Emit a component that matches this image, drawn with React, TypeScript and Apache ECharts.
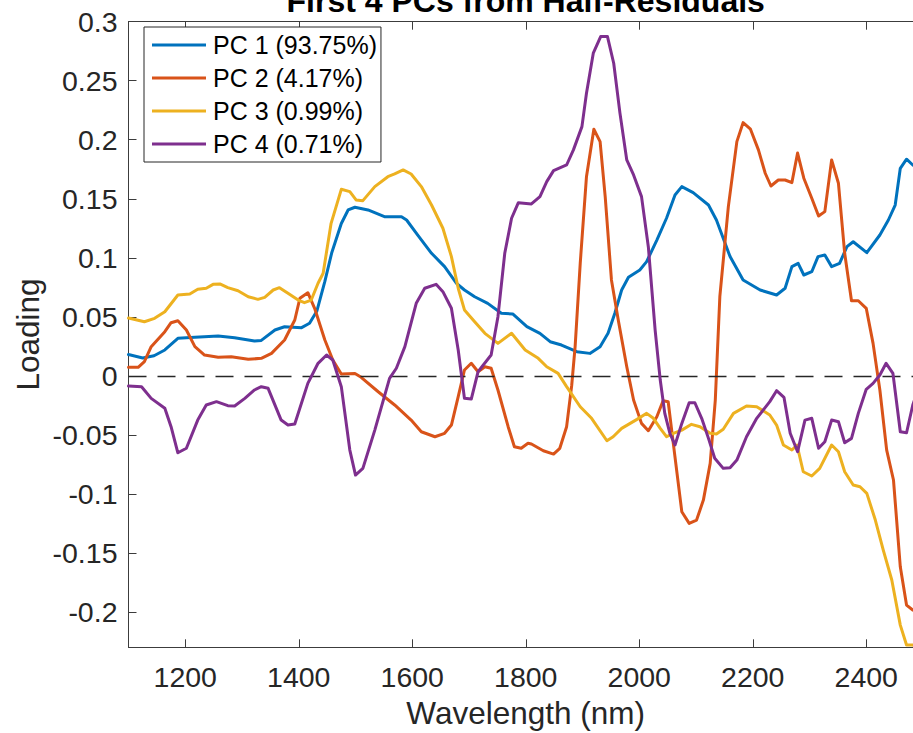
import React, { useEffect, useRef } from "react";
import * as echarts from "echarts";

// ---- Data ----
const seriesNames = ["PC 1 (93.75%)", "PC 2 (4.17%)", "PC 3 (0.99%)", "PC 4 (0.71%)"];
const seriesColors = ["#0072BD", "#D95319", "#EDB120", "#7E2F8E"];

const xTicks = [1200, 1400, 1600, 1800, 2000, 2200, 2400];
const yTicks = [-0.2, -0.15, -0.1, -0.05, 0, 0.05, 0.1, 0.15, 0.2, 0.25, 0.3];

const pc1Wavelength = [1100, 1125, 1145, 1164, 1187, 1217, 1258, 1287, 1322, 1334, 1358, 1375, 1405, 1419, 1432, 1446, 1458, 1475, 1487, 1499, 1522, 1551, 1581, 1590, 1610, 1634, 1657, 1678, 1692, 1710, 1733, 1757, 1777, 1802, 1825, 1843, 1863, 1890, 1913, 1931, 1945, 1957, 1969, 1981, 2001, 2013, 2031, 2048, 2063, 2075, 2095, 2122, 2136, 2160, 2183, 2213, 2242, 2257, 2269, 2280, 2290, 2304, 2315, 2327, 2339, 2353, 2366, 2377, 2401, 2424, 2439, 2451, 2460, 2471, 2482, 2490, 2500];
const pc1Loading = [0.018, 0.0151, 0.017, 0.0219, 0.0318, 0.0326, 0.0337, 0.0323, 0.0295, 0.03, 0.0388, 0.0416, 0.0408, 0.0445, 0.055, 0.08, 0.104, 0.129, 0.1405, 0.1428, 0.1405, 0.1348, 0.1348, 0.132, 0.119, 0.1038, 0.0925, 0.0784, 0.0727, 0.067, 0.0614, 0.053, 0.0524, 0.0416, 0.036, 0.0289, 0.0261, 0.0204, 0.019, 0.0247, 0.036, 0.053, 0.0727, 0.0835, 0.0897, 0.0967, 0.115, 0.1335, 0.1532, 0.1603, 0.1552, 0.1447, 0.132, 0.101, 0.0812, 0.0727, 0.0685, 0.0742, 0.0925, 0.0953, 0.0854, 0.0882, 0.101, 0.1024, 0.0925, 0.0953, 0.1094, 0.1136, 0.1043, 0.1193, 0.132, 0.1447, 0.1758, 0.1835, 0.1786, 0.177, 0.175];

const pc2Wavelength = [1100, 1117, 1128, 1140, 1164, 1175, 1187, 1202, 1217, 1234, 1258, 1281, 1311, 1334, 1352, 1375, 1393, 1402, 1416, 1428, 1446, 1460, 1475, 1499, 1510, 1540, 1569, 1598, 1616, 1640, 1657, 1669, 1681, 1692, 1704, 1716, 1728, 1739, 1751, 1769, 1780, 1792, 1804, 1810, 1831, 1849, 1860, 1872, 1881, 1887, 1896, 1907, 1920, 1931, 1940, 1951, 1963, 1978, 1990, 2004, 2016, 2031, 2042, 2051, 2060, 2075, 2088, 2101, 2113, 2125, 2134, 2142, 2157, 2172, 2183, 2196, 2210, 2222, 2232, 2245, 2257, 2269, 2279, 2290, 2304, 2316, 2327, 2339, 2351, 2362, 2374, 2386, 2400, 2412, 2424, 2436, 2448, 2460, 2471, 2482, 2500];
const pc2Loading = [0.0072, 0.0072, 0.012, 0.0247, 0.0374, 0.045, 0.0467, 0.0388, 0.0247, 0.0176, 0.0157, 0.0162, 0.014, 0.0148, 0.019, 0.0303, 0.0473, 0.0657, 0.0704, 0.0572, 0.0303, 0.0134, 0.0015, 0.002, -0.0013, -0.0135, -0.0247, -0.0375, -0.0474, -0.0516, -0.0487, -0.0417, -0.0177, 0.0049, 0.0106, 0.0035, 0.0077, 0.0064, -0.012, -0.0431, -0.0601, -0.0614, -0.0572, -0.0578, -0.0635, -0.0663, -0.0614, -0.0431, -0.008, 0.0247, 0.0953, 0.1687, 0.2089, 0.1984, 0.1518, 0.0812, 0.0473, 0.0077, -0.0205, -0.0403, -0.0465, -0.0347, -0.0211, -0.022, -0.0572, -0.1152, -0.125, -0.1222, -0.1053, -0.0742, -0.0205, 0.067, 0.1433, 0.1984, 0.2145, 0.2089, 0.1914, 0.1716, 0.1608, 0.1659, 0.1659, 0.1637, 0.1887, 0.1674, 0.1504, 0.1354, 0.1391, 0.1829, 0.1631, 0.1038, 0.0636, 0.0636, 0.0572, 0.0275, -0.012, -0.0629, -0.0883, -0.1618, -0.1942, -0.1985, -0.2];

const pc3Wavelength = [1100, 1128, 1146, 1164, 1187, 1208, 1222, 1237, 1249, 1261, 1275, 1293, 1311, 1328, 1340, 1355, 1366, 1381, 1399, 1410, 1422, 1434, 1443, 1457, 1475, 1490, 1501, 1513, 1534, 1557, 1569, 1584, 1598, 1616, 1634, 1654, 1669, 1681, 1692, 1710, 1728, 1751, 1775, 1799, 1822, 1837, 1857, 1872, 1896, 1916, 1943, 1954, 1969, 1996, 2013, 2025, 2037, 2048, 2060, 2075, 2092, 2107, 2125, 2136, 2148, 2166, 2189, 2207, 2230, 2242, 2254, 2269, 2278, 2289, 2304, 2318, 2339, 2351, 2362, 2377, 2389, 2401, 2416, 2430, 2445, 2460, 2471, 2482, 2490, 2500];
const pc3Loading = [0.049, 0.0458, 0.0487, 0.0543, 0.0685, 0.0693, 0.0733, 0.0742, 0.0775, 0.0778, 0.0747, 0.0721, 0.067, 0.0648, 0.0665, 0.0727, 0.0747, 0.0699, 0.0642, 0.062, 0.0642, 0.0784, 0.0869, 0.1292, 0.158, 0.156, 0.149, 0.1484, 0.1603, 0.1687, 0.171, 0.1744, 0.171, 0.1603, 0.1447, 0.125, 0.101, 0.0742, 0.0558, 0.0458, 0.036, 0.0275, 0.036, 0.0219, 0.0148, 0.0077, 0.0021, -0.0092, -0.0262, -0.036, -0.055, -0.0516, -0.0445, -0.0369, -0.0318, -0.036, -0.0445, -0.0516, -0.0487, -0.046, -0.0411, -0.0431, -0.0487, -0.0493, -0.0453, -0.0318, -0.0256, -0.0262, -0.0332, -0.0417, -0.0586, -0.0629, -0.0586, -0.0813, -0.0849, -0.0784, -0.0586, -0.0643, -0.0813, -0.0925, -0.094, -0.0996, -0.1222, -0.1476, -0.173, -0.2112, -0.2281, -0.2281, -0.2298, -0.228];

const pc4Wavelength = [1100, 1123, 1140, 1164, 1175, 1187, 1202, 1222, 1237, 1255, 1275, 1287, 1305, 1322, 1334, 1346, 1369, 1381, 1393, 1416, 1434, 1449, 1460, 1475, 1490, 1500, 1513, 1534, 1560, 1572, 1587, 1607, 1622, 1642, 1654, 1669, 1681, 1692, 1704, 1716, 1739, 1751, 1763, 1775, 1787, 1810, 1825, 1837, 1849, 1872, 1884, 1899, 1907, 1919, 1932, 1944, 1955, 1966, 1978, 1990, 2004, 2016, 2028, 2037, 2045, 2054, 2063, 2075, 2088, 2098, 2110, 2122, 2133, 2148, 2160, 2172, 2189, 2207, 2230, 2242, 2255, 2266, 2279, 2292, 2304, 2316, 2327, 2339, 2351, 2362, 2374, 2386, 2400, 2412, 2424, 2435, 2447, 2460, 2471, 2482, 2500];
const pc4Loading = [-0.0086, -0.0092, -0.0191, -0.0275, -0.0431, -0.0652, -0.0614, -0.0375, -0.0247, -0.0219, -0.0253, -0.0256, -0.0191, -0.012, -0.0092, -0.0106, -0.0375, -0.0417, -0.0408, -0.0064, 0.0106, 0.0176, 0.0134, -0.0092, -0.0629, -0.0841, -0.0784, -0.046, -0.0021, 0.0064, 0.0247, 0.0614, 0.0742, 0.0775, 0.0713, 0.0572, 0.0219, -0.0191, -0.0197, 0.0035, 0.0176, 0.0501, 0.1038, 0.1335, 0.1467, 0.1456, 0.1518, 0.1645, 0.1738, 0.1786, 0.1914, 0.2111, 0.2394, 0.2733, 0.2874, 0.2874, 0.2648, 0.2225, 0.1829, 0.1702, 0.1518, 0.1094, 0.0388, -0.0036, -0.0318, -0.0487, -0.0586, -0.0403, -0.0228, -0.0228, -0.036, -0.053, -0.0699, -0.0784, -0.0779, -0.0714, -0.0516, -0.036, -0.0219, -0.0126, -0.0182, -0.0487, -0.0643, -0.0375, -0.036, -0.0614, -0.0558, -0.0375, -0.0389, -0.0567, -0.053, -0.0318, -0.0114, -0.0064, 0.0007, 0.0106, 0.0021, -0.0474, -0.0482, -0.0247, 0.0];

const titleText = "First 4 PCs from Half-Residuals";
const xLabelText = "Wavelength (nm)";
const yLabelText = "Loading";

const FONT = '"Liberation Sans", Arial, Helvetica, sans-serif';
const AXIS_COLOR = "#3c3c3c";
const TEXT_COLOR = "#262626";

const zip = (xs: number[], ys: number[]) => xs.map((x, i) => [x, ys[i]]);

export default function App() {
  const ref = useRef<HTMLDivElement>(null);

  useEffect(() => {
    if (!ref.current) return;
    const chart = echarts.init(ref.current, null, { renderer: "svg" });

    const allData = [
      zip(pc1Wavelength, pc1Loading),
      zip(pc2Wavelength, pc2Loading),
      zip(pc3Wavelength, pc3Loading),
      zip(pc4Wavelength, pc4Loading),
    ];

    const xAxisCommon = {
      type: "value",
      min: 1100,
      max: 2500,
      splitLine: { show: false },
      axisLine: { show: true, onZero: false, lineStyle: { color: AXIS_COLOR, width: 1 } },
      axisTick: { show: true, inside: true, length: 8, customValues: xTicks, lineStyle: { color: AXIS_COLOR, width: 1 } },
    };
    const yAxisCommon = {
      type: "value",
      min: -0.23,
      max: 0.3,
      splitLine: { show: false },
      axisLine: { show: true, onZero: false, lineStyle: { color: AXIS_COLOR, width: 1 } },
      axisTick: { show: true, inside: true, length: 8, customValues: yTicks, lineStyle: { color: AXIS_COLOR, width: 1 } },
    };

    const option: any = {
      animation: false,
      backgroundColor: "#ffffff",
      grid: { left: 128.5, top: 21.7, right: 17, bottom: 85.7, containLabel: false },
      xAxis: [
        {
          ...xAxisCommon,
          position: "bottom",
          axisLabel: {
            show: true,
            customValues: xTicks,
            margin: 15,
            fontSize: 28.5,
            fontFamily: FONT,
            color: TEXT_COLOR,
            formatter: (v: number) => String(v),
          },
        },
        { ...xAxisCommon, position: "top", axisLabel: { show: false } },
      ],
      yAxis: [
        {
          ...yAxisCommon,
          position: "left",
          axisLabel: {
            show: true,
            customValues: yTicks,
            margin: 11,
            fontSize: 28.5,
            fontFamily: FONT,
            color: TEXT_COLOR,
            formatter: (v: number) => String(parseFloat(v.toFixed(2))),
          },
        },
        { ...yAxisCommon, position: "right", axisLabel: { show: false } },
      ],
      legend: {
        show: true,
        orient: "vertical",
        left: 144,
        top: 27,
        padding: [5.5, 4, 5.5, 8],
        itemGap: 8,
        itemWidth: 54,
        itemHeight: 3,
        icon: "rect",
        backgroundColor: "#ffffff",
        borderColor: TEXT_COLOR,
        borderWidth: 1,
        selectedMode: false,
        data: seriesNames,
        textStyle: { fontSize: 25, fontFamily: FONT, color: "#000", lineHeight: 25, padding: [0, 0, 0, 2] },
      },
      graphic: [
        {
          type: "text",
          x: 525.7,
          y: 1,
          style: {
            text: titleText,
            fontSize: 32,
            fontWeight: "bold",
            fontFamily: FONT,
            fill: "#000",
            align: "center",
            verticalAlign: "middle",
            textAlign: "center",
            textVerticalAlign: "middle",
          },
        },
        {
          type: "text",
          x: 525.7,
          y: 713,
          style: {
            text: xLabelText,
            fontSize: 31.5,
            fontFamily: FONT,
            fill: TEXT_COLOR,
            align: "center",
            verticalAlign: "middle",
            textAlign: "center",
            textVerticalAlign: "middle",
          },
        },
        {
          type: "text",
          x: 27.5,
          y: 334.5,
          rotation: Math.PI / 2,
          style: {
            text: yLabelText,
            fontSize: 31.5,
            fontFamily: FONT,
            fill: TEXT_COLOR,
            align: "center",
            verticalAlign: "middle",
            textAlign: "center",
            textVerticalAlign: "middle",
          },
        },
      ],
      series: allData.map((d, i) => ({
        name: seriesNames[i],
        type: "line",
        data: d,
        xAxisIndex: 0,
        yAxisIndex: 0,
        showSymbol: false,
        symbol: "none",
        clip: true,
        z: 3 + i,
        lineStyle: { width: 3, color: seriesColors[i], cap: "round", join: "round" },
        itemStyle: { color: seriesColors[i] },
        emphasis: { disabled: true },
        markLine:
          i === 0
            ? {
                silent: true,
                symbol: ["none", "none"],
                label: { show: false },
                lineStyle: { type: [18, 11], color: "#262626", width: 1.3 },
                emphasis: { disabled: true },
                data: [{ yAxis: 0 }],
              }
            : undefined,
      })),
    };

    chart.setOption(option);
    return () => chart.dispose();
  }, []);

  return (
    <div
      style={{
        position: "fixed",
        left: 0,
        top: 0,
        width: 913,
        height: 733,
        overflow: "hidden",
        background: "#fff",
      }}
    >
      <div ref={ref} style={{ width: 940, height: 733 }} />
    </div>
  );
}
